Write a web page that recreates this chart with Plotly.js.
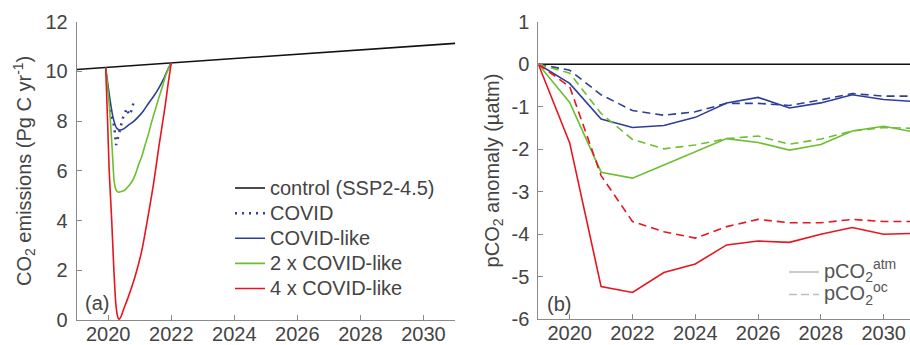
<!DOCTYPE html>
<html>
<head>
<meta charset="utf-8">
<script src="https://cdn.plot.ly/plotly-3.0.1.min.js"></script>
<style>html,body{margin:0;padding:0;background:#fff;}#chart{width:910px;height:345px;}</style>
</head>
<body>
<div id="chart"></div>
<script>
// ---------- Panel (a): CO2 emissions (Pg C / yr) ----------
const controlYears = [2019, 2022, 2031];
const controlVals  = [10.08, 10.35, 11.13];

const covidYears = [2020.05, 2020.12, 2020.19, 2020.25, 2020.35, 2020.46, 2020.59, 2020.66, 2020.73, 2020.80];
const covidVals  = [8.45, 8.10, 7.80, 7.04, 7.61, 8.11, 8.51, 8.25, 8.41, 8.72];

const like1Years = [2019.92, 2020.05, 2020.16, 2020.27, 2020.37, 2020.50, 2020.64, 2020.80, 2020.96, 2021.12, 2021.28, 2021.44, 2021.60, 2021.75, 2021.86, 2022.00];
const like1Vals  = [10.15, 8.92, 8.11, 7.71, 7.64, 7.70, 7.84, 7.98, 8.18, 8.42, 8.72, 9.00, 9.32, 9.68, 9.99, 10.35];

const like2Years = [2019.92, 2020.05, 2020.13, 2020.19, 2020.25, 2020.32, 2020.42, 2020.53, 2020.64, 2020.75, 2020.86, 2020.96, 2021.07, 2021.17, 2021.28, 2021.38, 2021.49, 2021.60, 2021.71, 2021.81, 2021.91, 2022.00];
const like2Vals  = [10.15, 8.38, 6.77, 5.56, 5.23, 5.14, 5.17, 5.23, 5.38, 5.56, 5.86, 6.23, 6.60, 7.04, 7.50, 7.98, 8.45, 8.92, 9.35, 9.79, 10.10, 10.35];

const like4Years = [2019.92, 2019.98, 2020.03, 2020.11, 2020.18, 2020.24, 2020.30, 2020.34, 2020.41, 2020.48, 2020.64, 2020.85, 2021.07, 2021.28, 2021.44, 2021.60, 2021.72, 2021.81, 2021.90, 2022.00];
const like4Vals  = [10.15, 8.00, 6.03, 4.02, 2.00, 0.67, 0.13, 0.03, 0.15, 0.40, 0.94, 1.74, 2.82, 4.29, 5.50, 6.91, 7.90, 8.65, 9.50, 10.35];

const emisTicks = [0, 2, 4, 6, 8, 10, 12];
const yearTicks = [2020, 2022, 2024, 2026, 2028, 2030];

// ---------- Panel (b): pCO2 anomaly (uatm) ----------
const pYears = [2019, 2020, 2021, 2022, 2023, 2024, 2025, 2026, 2027, 2028, 2029, 2030, 2031];
const zeroVals = [0, 0, 0, 0, 0, 0, 0, 0, 0, 0, 0, 0, 0];
const like1Atm = [0, -0.45, -1.29, -1.49, -1.44, -1.25, -0.91, -0.78, -1.03, -0.91, -0.72, -0.83, -0.88];
const like1Oc  = [0, -0.14, -0.72, -1.09, -1.20, -1.12, -0.92, -0.92, -0.97, -0.84, -0.69, -0.75, -0.75];
const like2Atm = [0, -0.90, -2.54, -2.68, -2.37, -2.06, -1.75, -1.84, -2.02, -1.89, -1.57, -1.46, -1.60];
const like2Oc  = [0, -0.21, -1.16, -1.77, -1.99, -1.90, -1.75, -1.69, -1.88, -1.76, -1.57, -1.49, -1.51];
const like4Atm = [0, -1.85, -5.23, -5.37, -4.90, -4.70, -4.25, -4.16, -4.19, -4.00, -3.84, -4.00, -3.98];
const like4Oc  = [0, -0.53, -2.62, -3.70, -3.94, -4.09, -3.82, -3.65, -3.73, -3.73, -3.65, -3.70, -3.70];

const pTickVals = [1, 0, -1, -2, -3, -4, -5, -6];
const pTickText = ['1', '0', '-1', '-2', '-3', '-4', '-5', '-6'];

const emisLegend = ['control (SSP2-4.5)', 'COVID', 'COVID-like', '2 x COVID-like', '4 x COVID-like'];
const pLegend = ['pCO<sub>2</sub><sup>atm</sup>', 'pCO<sub>2</sub><sup>oc</sup>'];

const C_BLACK = '#111111', C_BLUE = '#2e3f98', C_GREEN = '#6cbf30', C_RED = '#e8141e', C_GRAY = '#bdbdbd';
const LW = 1.6;
const big = s => '<span style="font-size:20px">' + s + '</span>';
const dip = {shape: 'spline', smoothing: 0.6};

const traces = [
  {x: controlYears, y: controlVals, name: big(emisLegend[0]), mode: 'lines', line: {color: C_BLACK, width: LW}, xaxis: 'x', yaxis: 'y'},
  {x: covidYears, y: covidVals, name: big(emisLegend[1]), mode: 'lines', line: {color: C_BLUE, width: 2.5, dash: '2px,5px'}, xaxis: 'x', yaxis: 'y'},
  {x: like1Years, y: like1Vals, name: big(emisLegend[2]), mode: 'lines', line: Object.assign({color: C_BLUE, width: LW}, dip), xaxis: 'x', yaxis: 'y'},
  {x: like2Years, y: like2Vals, name: big(emisLegend[3]), mode: 'lines', line: Object.assign({color: C_GREEN, width: LW}, dip), xaxis: 'x', yaxis: 'y'},
  {x: like4Years, y: like4Vals, name: big(emisLegend[4]), mode: 'lines', line: Object.assign({color: C_RED, width: LW}, dip), xaxis: 'x', yaxis: 'y'},

  {x: pYears, y: zeroVals, mode: 'lines', line: {color: C_BLACK, width: LW}, xaxis: 'x2', yaxis: 'y2', showlegend: false},
  {x: pYears, y: like1Oc, mode: 'lines', line: {color: C_BLUE, width: LW, dash: '8px,5px'}, xaxis: 'x2', yaxis: 'y2', showlegend: false},
  {x: pYears, y: like1Atm, mode: 'lines', line: {color: C_BLUE, width: LW}, xaxis: 'x2', yaxis: 'y2', showlegend: false},
  {x: pYears, y: like2Oc, mode: 'lines', line: {color: C_GREEN, width: LW, dash: '8px,5px'}, xaxis: 'x2', yaxis: 'y2', showlegend: false},
  {x: pYears, y: like2Atm, mode: 'lines', line: {color: C_GREEN, width: LW}, xaxis: 'x2', yaxis: 'y2', showlegend: false},
  {x: pYears, y: like4Oc, mode: 'lines', line: {color: C_RED, width: LW, dash: '8px,5px'}, xaxis: 'x2', yaxis: 'y2', showlegend: false},
  {x: pYears, y: like4Atm, mode: 'lines', line: {color: C_RED, width: LW}, xaxis: 'x2', yaxis: 'y2', showlegend: false},

  {x: [null], y: [null], name: big(pLegend[0]), mode: 'lines', line: {color: C_GRAY, width: LW}, xaxis: 'x2', yaxis: 'y2', legend: 'legend2'},
  {x: [null], y: [null], name: big(pLegend[1]), mode: 'lines', line: {color: C_GRAY, width: LW, dash: '8px,4px'}, xaxis: 'x2', yaxis: 'y2', legend: 'legend2'}
];

const axCommon = {
  showgrid: false, zeroline: false, showline: true, linecolor: '#8a8a8a', linewidth: 1,
  ticks: 'inside', ticklen: 5, tickcolor: '#8a8a8a', tickfont: {size: 20, color: '#444'}
};

const layout = {
  width: 910, height: 345,
  margin: {l: 0, r: 0, t: 0, b: 0},
  paper_bgcolor: '#ffffff', plot_bgcolor: '#ffffff',
  font: {family: 'Liberation Sans, Arial, Helvetica, sans-serif', size: 20, color: '#444'},
  xaxis: Object.assign({}, axCommon, {domain: [76.7/910, 455/910], range: [2019, 2031], tickvals: yearTicks, anchor: 'y', ticklabelstandoff: -4}),
  yaxis: Object.assign({}, axCommon, {domain: [25/345, 323.3/345], range: [0, 12], tickvals: emisTicks, anchor: 'x', ticklabelstandoff: 4,
    title: {text: 'CO<sub>2</sub> emissions (Pg C yr<sup>-1</sup>)', font: {size: 20, color: '#444'}, standoff: 8}}),
  xaxis2: Object.assign({}, axCommon, {domain: [538.3/910, 1], range: [2019, 2030.84], tickvals: yearTicks, anchor: 'y2', ticklabelstandoff: -4}),
  yaxis2: Object.assign({}, axCommon, {domain: [25.7/345, 323.3/345], range: [-6, 1], tickvals: pTickVals, ticktext: pTickText, anchor: 'x2', ticklabelstandoff: 4,
    title: {text: 'pCO<sub>2</sub> anomaly (µatm)', font: {size: 20, color: '#444'}, standoff: 6}}),
  legend: {x: 230/910, y: 1 - 170.5/345, xanchor: 'left', yanchor: 'top', bgcolor: 'rgba(0,0,0,0)', borderwidth: 0,
    font: {size: 17, color: '#444'}},
  legend2: {x: 784/910, y: 1 - 255.7/345, xanchor: 'left', yanchor: 'top', bgcolor: 'rgba(0,0,0,0)', borderwidth: 0,
    font: {size: 15, color: '#555'}},
  annotations: [
    {text: '(a)', xref: 'paper', yref: 'paper', x: 83/910, y: 1 - 303/345, xanchor: 'left', yanchor: 'middle', showarrow: false, font: {size: 20, color: '#444'}},
    {text: '(b)', xref: 'paper', yref: 'paper', x: 545/910, y: 1 - 304/345, xanchor: 'left', yanchor: 'middle', showarrow: false, font: {size: 20, color: '#444'}}
  ],
  showlegend: true
};

Plotly.newPlot('chart', traces, layout, {displayModeBar: false, staticPlot: true});
</script>
</body>
</html>
